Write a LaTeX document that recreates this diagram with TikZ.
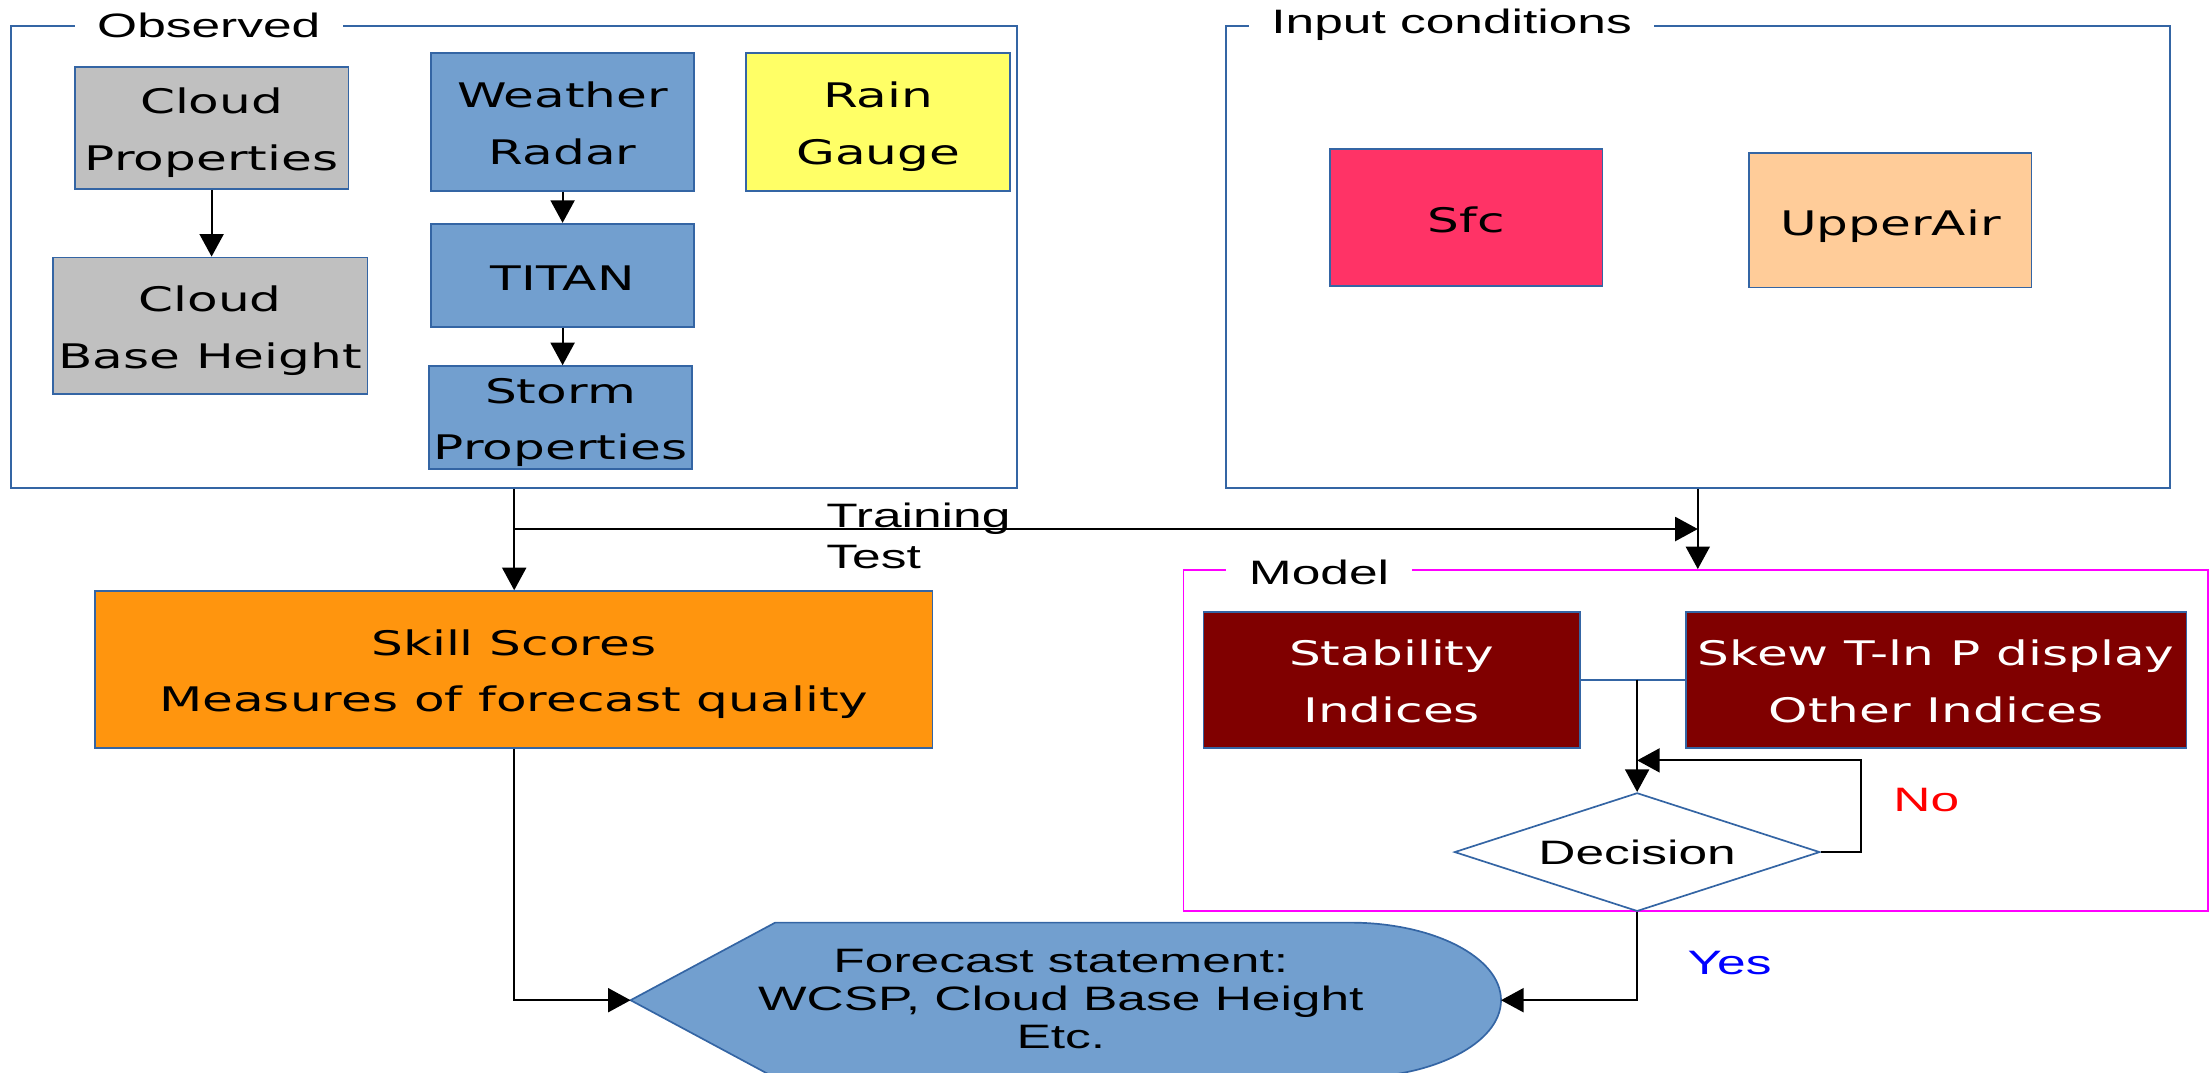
\documentclass[tikz,border=0pt]{standalone}
\usepackage{fontspec}
\usetikzlibrary{arrows.meta,shapes.geometric}
\newfontfamily\boxfont[FakeStretch=1.48]{DejaVu Sans}
\newfontfamily\arialfont[FakeStretch=1.52]{Liberation Sans}
\definecolor{lineblue}{HTML}{3465A4}
\definecolor{boxblue}{HTML}{729FCF}
\definecolor{boxgray}{HTML}{C0C0C0}
\definecolor{boxyellow}{HTML}{FFFF66}
\definecolor{sfcred}{HTML}{FF3366}
\definecolor{peach}{HTML}{FFCC99}
\definecolor{skillorange}{HTML}{FF950E}
\definecolor{darkmaroon}{HTML}{800000}
\definecolor{magentaframe}{HTML}{FF00FF}
\newcommand{\bxtop}{\rule{0pt}{26pt}}
\newcommand{\bxbot}{\rule[-6pt]{0pt}{6pt}}
\newcommand{\bxonestrut}{\rule[-4pt]{0pt}{30pt}}
\begin{document}
\begin{tikzpicture}[x=1pt,y=-1pt,
  box/.style={draw=lineblue, line width=1.2pt, inner sep=0pt, align=center,
    font=\boxfont\fontsize{24}{40}\selectfont},
  boxone/.style={box, execute at begin node=\bxonestrut},
  frame/.style={draw=lineblue, line width=1.2pt, inner sep=0pt},
  flabel/.style={fill=white, inner xsep=16pt, inner ysep=2pt, anchor=base,
    font=\arialfont\fontsize{24}{28}\selectfont},
  arr/.style={draw=black, line width=1.5pt, -{Triangle[width=17pt,length=16pt]}},
  bline/.style={draw=lineblue, line width=1.2pt},
  lbl/.style={font=\arialfont\fontsize{24}{27}\selectfont, inner sep=0pt}
]
\path[use as bounding box] (0,0) rectangle (1568,760);

% frames
\node[frame, minimum width=713pt, minimum height=327.8pt] (obs) at (364.5,182.1) {};
\node[flabel] (obsl) at (148,26.5) {Observed};
\node[frame, minimum width=669pt, minimum height=327.8pt] (inp) at (1203.5,182.1) {};
\node[flabel] (inpl) at (1029,24) {Input conditions};
\node[frame, draw=magentaframe, minimum width=726pt, minimum height=242pt] (mdl) at (1201.9,525) {};
\node[flabel] (mdll) at (935,414) {Model};

% observed boxes
\node[box, fill=boxgray, minimum width=194pt, minimum height=86.7pt] (cp) at (150,90.7) {\bxtop Cloud\\Properties\bxbot};
\node[box, fill=boxgray, minimum width=223pt, minimum height=97pt] (cbh) at (149,231) {\bxtop Cloud\\Base Height\bxbot};
\node[box, fill=boxblue, minimum width=186.4pt, minimum height=97.4pt] (wr) at (398.8,86.5) {\bxtop Weather\\Radar\bxbot};
\node[boxone, fill=boxblue, minimum width=186.4pt, minimum height=73pt] (titan) at (398.8,195.1) {TITAN};
\node[box, fill=boxblue, minimum width=186.5pt, minimum height=73pt] (storm) at (397.3,296) {\bxtop Storm\\Properties\bxbot};
\node[box, fill=boxyellow, minimum width=187pt, minimum height=97.4pt] (rain) at (622.5,86.5) {\bxtop Rain\\Gauge\bxbot};

% input boxes
\node[boxone, fill=sfcred, minimum width=193pt, minimum height=97pt] (sfc) at (1039.5,154) {Sfc};
\node[boxone, fill=peach, minimum width=200pt, minimum height=95pt] (upper) at (1340,156.2) {UpperAir};

% skill
\node[box, fill=skillorange, minimum width=593.7pt, minimum height=111pt] (skill) at (364.2,474.5) {\bxtop Skill Scores\\Measures of forecast quality\bxbot};

% model
\node[box, fill=darkmaroon, text=white, minimum width=267pt, minimum height=96.4pt] (stab) at (986.5,481.8) {\bxtop Stability\\Indices\bxbot};
\node[box, fill=darkmaroon, text=white, minimum width=355pt, minimum height=96.4pt] (skew) at (1372.5,481.8) {\bxtop Skew T-ln P display\\Other Indices\bxbot};
\node[diamond, draw=lineblue, line width=1.2pt, fill=white, aspect=3.08, inner sep=0pt,
  minimum width=259pt, minimum height=84pt, font=\arialfont\fontsize{24}{27}\selectfont] (dec) at (1160.5,604) {Decision};

% forecast shape
\coordinate (fcW) at (447,709);
\coordinate (fcE) at (1064,709);
\begin{scope}
\clip (0,0) rectangle (1568,760);
\path[draw=lineblue, fill=boxblue, line width=1.2pt]
  (fcW) -- (549.5,654) -- (957,654)
  .. controls (1016.1,654) and (1064,678.6) .. (fcE)
  .. controls (1064,739.4) and (1016.1,764) .. (957,764)
  -- (549.5,764) -- cycle;
\end{scope}
\node[lbl, align=center] (fc) at (752,708) {Forecast statement:\\WCSP, Cloud Base Height\\Etc.};

% connectors
\draw[arr] (cp.south) -- (cp.south |- cbh.north);
\draw[arr] (wr.south) -- (titan.north);
\draw[arr] (titan.south) -- (titan.south |- storm.north);

\coordinate (ts) at (364.5,375);
\coordinate (tj) at (1203.5,375);
\draw[arr] (obs.south) -- (obs.south |- skill.north);
\draw[arr] (ts) -- (tj);
\draw[arr] (inp.south) -- (inp.south |- mdl.north);

\draw[bline] (stab.east) -- (skew.west);
\coordinate (bj) at (1160.5,481.8);
\draw[arr] (bj) -- (dec.north);
\coordinate (noc) at (1319,539);
\coordinate (noend) at (1160.5,539);
\draw[arr] (dec.east) -| (noc) -- (noend);

\draw[arr] (skill.south) |- (fcW);
\draw[arr] (dec.south) |- (fcE);

% labels
\node[lbl, anchor=base west] (trn) at (585.6,374) {Training};
\node[lbl, anchor=base west] (tst) at (585.6,403) {Test};
\node[lbl, anchor=base west, text=red] (no) at (1342,575) {No};
\node[lbl, anchor=base west, text=blue] (yes) at (1196,691) {Yes};
\end{tikzpicture}
\end{document}
